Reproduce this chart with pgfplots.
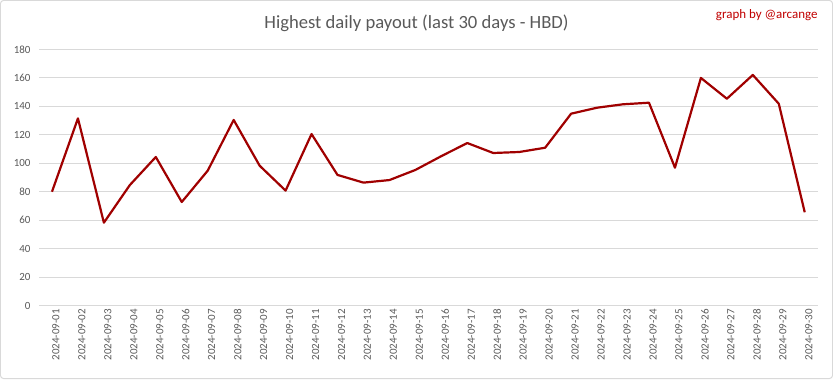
\documentclass[border=0pt]{standalone}
\usepackage{fontspec}
\setmainfont{Carlito}
\usepackage{pgfplots}
\pgfplotsset{compat=1.18}
\definecolor{linered}{RGB}{160,0,0}
\definecolor{gridgray}{RGB}{217,217,217}
\definecolor{textgray}{RGB}{89,89,89}
\definecolor{credred}{RGB}{192,0,0}
\begin{document}
\begin{tikzpicture}[x=1bp,y=1bp]
\draw[gridgray, line width=1bp, rounded corners=3bp] (0.5,0.5) rectangle (832.5,378.5);
\node[font=\fontsize{18.7}{22}\selectfont, text=textgray] at (416.5,356) {Highest daily payout (last 30 days - HBD)};
\node[font=\fontsize{13}{15}\selectfont, text=credred, anchor=east] at (821,364) {graph by @arcange};
\begin{axis}[
  at={(39bp,73.3bp)}, anchor=south west,
  scale only axis, width=778.7bp, height=256.4bp,
  xmin=0.5, xmax=30.5, ymin=0, ymax=180,
  ytick={0,20,...,180},
  xtick={1,...,30},
  xticklabels={2024-09-01,2024-09-02,2024-09-03,2024-09-04,2024-09-05,2024-09-06,2024-09-07,2024-09-08,2024-09-09,2024-09-10,2024-09-11,2024-09-12,2024-09-13,2024-09-14,2024-09-15,2024-09-16,2024-09-17,2024-09-18,2024-09-19,2024-09-20,2024-09-21,2024-09-22,2024-09-23,2024-09-24,2024-09-25,2024-09-26,2024-09-27,2024-09-28,2024-09-29,2024-09-30},
  x tick label style={rotate=90, anchor=east, xshift=0bp, yshift=-4bp, font=\fontsize{11}{13}\selectfont, text=textgray},
  y tick label style={font=\fontsize{11}{13}\selectfont, text=textgray, xshift=-5bp},
  /pgf/number format/assume math mode=true,
  ymajorgrids, grid style={gridgray, line width=1bp},
  axis line style={draw=none},
  major tick length=0,
  clip=false,
]
\addplot[color=linered, line width=2.2bp, line join=round] coordinates {
(1,80) (2,131.5) (3,58.3) (4,84.7) (5,104.4) (6,72.8) (7,94.8) (8,130.4) (9,98.3) (10,80.8)
(11,120.5) (12,91.8) (13,86.4) (14,88.2) (15,95.3) (16,105) (17,114.2) (18,107.2) (19,107.9) (20,110.9)
(21,134.8) (22,139) (23,141.4) (24,142.5) (25,96.9) (26,159.9) (27,145.3) (28,162) (29,141.8) (30,65.6)
};
\end{axis}
\end{tikzpicture}
\end{document}
